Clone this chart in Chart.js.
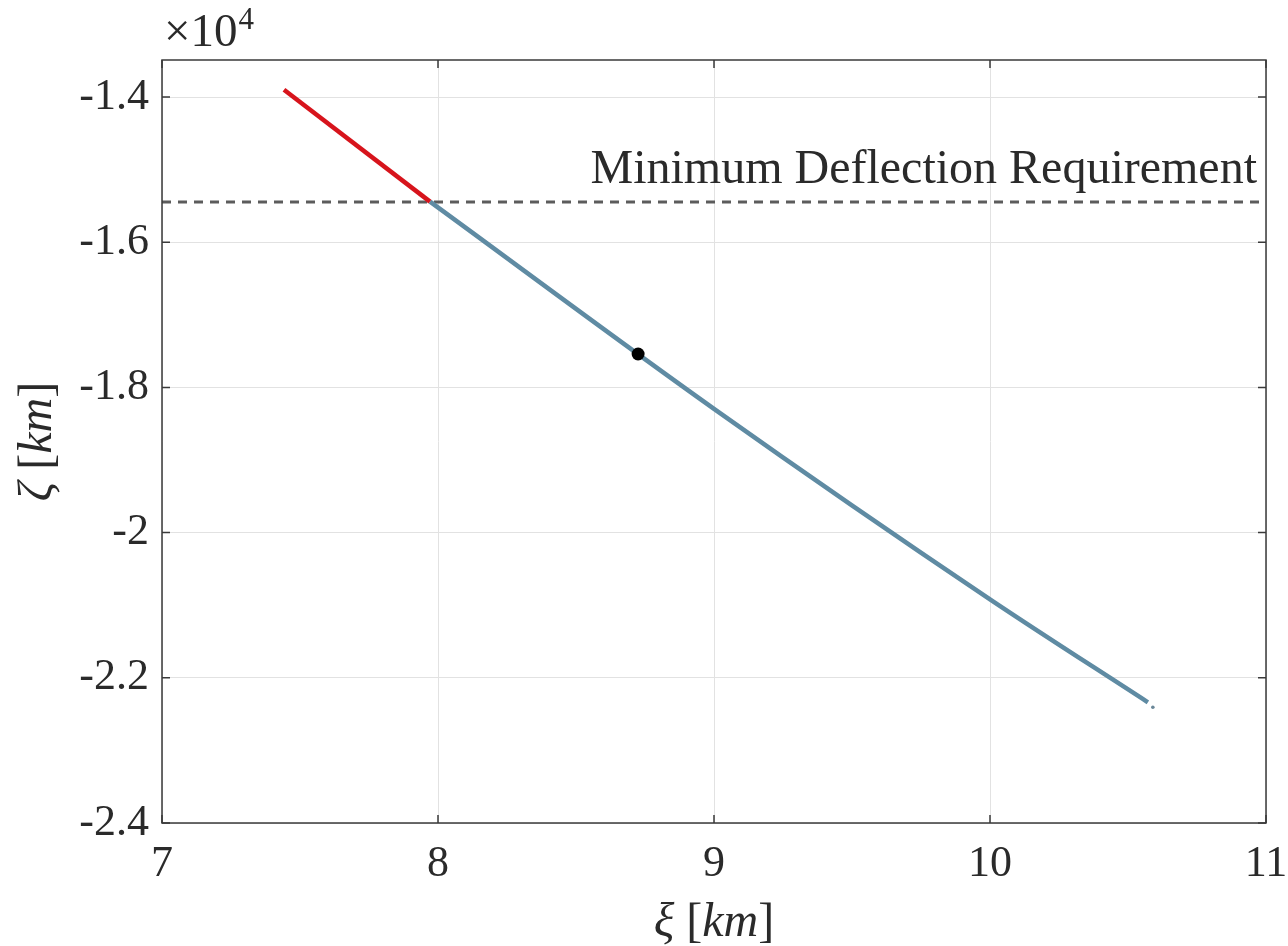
<!DOCTYPE html>
<html>
<head>
<meta charset="utf-8">
<script src="https://cdn.jsdelivr.net/npm/chart.js@4/dist/chart.umd.min.js"></script>
<style>
  html, body { margin: 0; padding: 0; background: #ffffff; }
  #wrap { width: 1288px; height: 946px; }
</style>
</head>
<body>
<div id="wrap"><canvas id="c" width="1288" height="946"></canvas></div>
<script>
// Trajectory in the (xi, zeta) plane, km
const redXi    = [7.442, 7.971];
const redZeta  = [-13900, -15441];

const blueXi   = [7.971, 9.0, 10.0, 10.572];
const blueZeta = [-15441, -18295, -20919, -22337];

const endDotXi   = [10.59];
const endDotZeta = [-22406];

const markerXi   = [8.725];
const markerZeta = [-17540];

// Minimum deflection threshold
const thresholdZeta = -15445;
const thresholdXi   = [7, 11];

// Axis ticks
const xTicks = [7, 8, 9, 10, 11];
const yTicks = [-24000, -22000, -20000, -18000, -16000, -14000];

const thresholdLabel = 'Minimum Deflection Requirement';

const toPoints = (xs, ys) => xs.map((x, i) => ({ x: x, y: ys[i] }));

const SERIF = '"Liberation Serif", "DejaVu Serif", serif';
const TICK_FONT = 44;
const TITLE_FONT = 48;

// Draw a run of text pieces with their own styles, centred on (0, 0)
function drawPieces(ctx, pieces, size) {
  const widths = pieces.map(p => {
    ctx.font = (p.italic ? 'italic ' : '') + size + 'px ' + SERIF;
    return ctx.measureText(p.text).width;
  });
  const total = widths.reduce((a, b) => a + b, 0);
  let x = -total / 2;
  pieces.forEach((p, i) => {
    ctx.font = (p.italic ? 'italic ' : '') + size + 'px ' + SERIF;
    ctx.fillText(p.text, x, 0);
    x += widths[i];
  });
}

const framePlugin = {
  id: 'frame',
  afterDraw(chart) {
    const ctx = chart.ctx;
    const a = chart.chartArea;
    const xs = chart.scales.x, ys = chart.scales.y;
    const tl = 8;
    ctx.save();
    ctx.strokeStyle = '#3a3a3a';
    ctx.lineWidth = 1.5;
    ctx.strokeRect(a.left, a.top, a.right - a.left, a.bottom - a.top);
    ctx.beginPath();
    xTicks.forEach(v => {
      const px = xs.getPixelForValue(v);
      ctx.moveTo(px, a.bottom); ctx.lineTo(px, a.bottom - tl);
      ctx.moveTo(px, a.top);    ctx.lineTo(px, a.top + tl);
    });
    yTicks.forEach(v => {
      const py = ys.getPixelForValue(v);
      ctx.moveTo(a.left, py);  ctx.lineTo(a.left + tl, py);
      ctx.moveTo(a.right, py); ctx.lineTo(a.right - tl, py);
    });
    ctx.stroke();

    ctx.fillStyle = '#2a2a2a';
    ctx.textBaseline = 'alphabetic';

    // exponent label
    ctx.textAlign = 'left';
    ctx.font = '47px ' + SERIF;
    ctx.fillText('\u00d710', a.left + 2, 46);
    const w = ctx.measureText('\u00d710').width;
    ctx.font = '31px ' + SERIF;
    ctx.fillText('4', a.left + 2 + w + 1, 29);

    // threshold annotation
    ctx.textAlign = 'right';
    ctx.font = TITLE_FONT + 'px ' + SERIF;
    ctx.fillText(thresholdLabel, a.right - 9, ys.getPixelForValue(thresholdZeta) - 19);

    // axis titles
    ctx.textAlign = 'left';
    ctx.textBaseline = 'middle';
    ctx.save();
    ctx.translate((a.left + a.right) / 2, 923);
    drawPieces(ctx, [
      { text: '\u03be', italic: true }, { text: ' [', italic: false },
      { text: 'km', italic: true }, { text: ']', italic: false }
    ], TITLE_FONT);
    ctx.restore();

    ctx.save();
    ctx.translate(38, (a.top + a.bottom) / 2);
    ctx.rotate(-Math.PI / 2);
    drawPieces(ctx, [
      { text: '\u03b6', italic: true }, { text: ' [', italic: false },
      { text: 'km', italic: true }, { text: ']', italic: false }
    ], TITLE_FONT);
    ctx.restore();
    ctx.restore();
  }
};

new Chart(document.getElementById('c'), {
  type: 'scatter',
  data: {
    datasets: [
      {
        data: toPoints(markerXi, markerZeta),
        showLine: false, pointRadius: 6.5, pointHoverRadius: 6.5,
        pointBackgroundColor: '#000000', pointBorderWidth: 0, order: 0
      },
      {
        data: toPoints(redXi, redZeta),
        showLine: true, borderColor: '#d7141c', borderWidth: 4.5,
        pointRadius: 0, order: 1
      },
      {
        data: toPoints(blueXi, blueZeta),
        showLine: true, borderColor: '#5f8ba3', borderWidth: 4.5,
        cubicInterpolationMode: 'monotone',
        pointRadius: 0, order: 2
      },
      {
        data: toPoints(endDotXi, endDotZeta),
        showLine: false, pointRadius: 1.8, pointBackgroundColor: '#6a8798',
        pointBorderWidth: 0, order: 3
      },
      {
        data: toPoints(thresholdXi, thresholdXi.map(() => thresholdZeta)),
        showLine: true, borderColor: '#5c5c5c', borderWidth: 3,
        borderDash: [9, 7], pointRadius: 0, order: 4
      }
    ]
  },
  options: {
    responsive: false,
    animation: false,
    events: [],
    layout: { padding: { left: 0, right: 22, top: 60, bottom: 0 } },
    plugins: { legend: { display: false }, tooltip: { enabled: false } },
    scales: {
      x: {
        type: 'linear', min: 7, max: 11,
        afterBuildTicks: s => { s.ticks = xTicks.map(v => ({ value: v })); },
        afterFit: s => { s.height = 123; s.paddingLeft = 0; s.paddingRight = 0; },
        grid: { color: '#e2e2e2', lineWidth: 1, drawTicks: false },
        border: { display: false },
        ticks: {
          padding: 15, color: '#2a2a2a',
          font: { family: SERIF, size: TICK_FONT },
          callback: v => String(v)
        }
      },
      y: {
        type: 'linear', min: -24000, max: -13490,
        afterBuildTicks: s => { s.ticks = yTicks.map(v => ({ value: v })); },
        afterFit: s => { s.width = 162; },
        grid: { color: '#e2e2e2', lineWidth: 1, drawTicks: false },
        border: { display: false },
        ticks: {
          padding: 13, color: '#2a2a2a',
          font: { family: SERIF, size: TICK_FONT },
          callback: v => String(Math.round(v / 1000) / 10)
        }
      }
    }
  },
  plugins: [framePlugin]
});
</script>
</body>
</html>
